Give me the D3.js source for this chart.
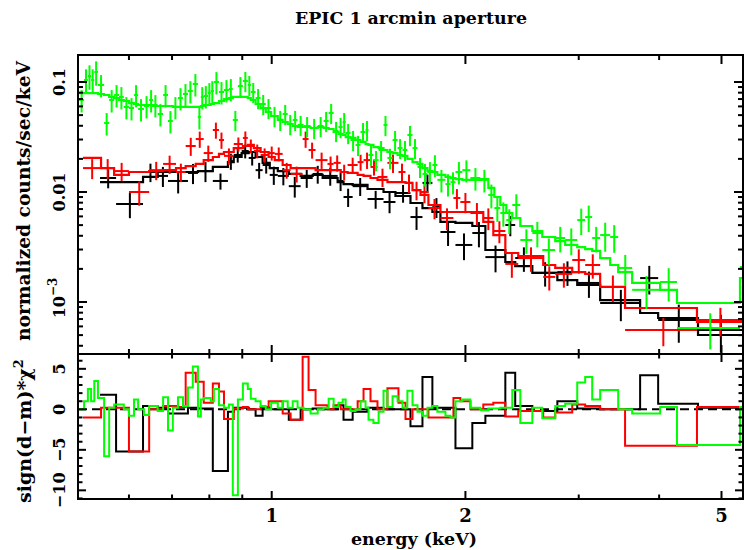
<!DOCTYPE html>
<html><head><meta charset="utf-8">
<script src="https://cdn.jsdelivr.net/npm/d3@7"></script>
<style>body{margin:0;background:#fff}</style>
</head><body><svg id="c" width="744" height="550"></svg>
<script>
// ---------------- data (energies in keV, fluxes in counts/s/keV) ----------------
const blackEdges=[0.541,0.573,0.631,0.665,0.690,0.741,0.768,0.810,0.855,0.873,0.898,0.921,0.944,0.968,0.993,1.022,1.063,1.109,1.158,1.200,1.266,1.293,1.336,1.409,1.492,1.557,1.643,1.715,1.777,1.829,1.930,2.050,2.148,2.307,2.390,2.541,2.779,2.984,3.239,3.737,3.986,4.597,5.381];
const blackFlux=[0.0134,0.00778,0.0152,0.0140,0.0126,0.0149,0.0155,0.0126,0.0191,0.0217,0.0236,0.0204,0.0158,0.0176,0.0143,0.0140,0.0113,0.0134,0.0146,0.0140,0.0126,0.00901,0.0113,0.00864,0.00811,0.00979,0.00592,0.0121,0.00730,0.00433,0.00330,0.00424,0.00256,0.00501,0.00251,0.00184,0.00187,0.00149,0.000979,0.00165,0.000686,0.000556];
const blackErr=[0.0026,0.0020,0.0029,0.0029,0.0029,0.0031,0.0032,0.0021,0.0032,0.0032,0.0034,0.0030,0.0026,0.0029,0.0027,0.0025,0.0024,0.0025,0.0027,0.0026,0.0024,0.0017,0.0021,0.0016,0.0017,0.0018,0.0014,0.0023,0.0015,0.0011,0.0009,0.0011,0.0007,0.00105,0.00063,0.00046,0.00047,0.00040,0.00031,0.00048,0.00026,0.00021];
const blackModel=[0.0123,0.0123,0.0137,0.0152,0.0152,0.0152,0.0155,0.0169,0.0187,0.0208,0.0226,0.0231,0.0208,0.0184,0.0165,0.0155,0.0146,0.0140,0.0143,0.0134,0.0123,0.0118,0.0116,0.01065,0.0100,0.0092,0.00794,0.00715,0.00658,0.00534,0.00523,0.00491,0.00297,0.00231,0.00212,0.00184,0.00158,0.00143,0.00104,0.000794,0.000715,0.000501];
const blackResid=[1.8,-5.2,0.4,0.2,-0.5,0.2,0.1,-7.6,-0.3,0.2,0.2,0,-0.8,0.2,0,0,-1.3,0,0.1,0,0.5,-1.3,-0.3,0.2,0,0,-2.1,4.0,0.2,0.2,-4.8,-1.7,-0.8,4.5,0.4,-0.2,1.0,0.1,0,4.2,0.7,0.2];

const redEdges=[0.509,0.543,0.569,0.600,0.645,0.678,0.710,0.735,0.762,0.784,0.810,0.828,0.843,0.873,0.902,0.918,0.938,0.961,0.989,1.011,1.040,1.070,1.117,1.141,1.170,1.221,1.248,1.280,1.312,1.360,1.389,1.424,1.460,1.513,1.574,1.614,1.655,1.703,1.752,1.829,1.916,1.964,2.036,2.132,2.210,2.307,2.416,2.642,2.758,2.931,3.070,3.239,3.541,4.580,5.381];
const redFlux=[0.0165,0.0165,0.0155,0.0100,0.0158,0.0180,0.0152,0.0262,0.0303,0.0226,0.0366,0.0297,0.0213,0.0273,0.0310,0.0262,0.0236,0.0217,0.0226,0.0222,0.0158,0.0146,0.0303,0.0241,0.0195,0.0180,0.0184,0.0152,0.0176,0.0187,0.0195,0.0169,0.0137,0.0184,0.0152,0.0121,0.0104,0.0100,0.00715,0.00580,0.00882,0.00811,0.00644,0.00580,0.00442,0.00222,0.00251,0.00169,0.00180,0.00241,0.00217,0.00137,0.000556,0.000686];
const redErr=[0.0034,0.0034,0.0029,0.0025,0.0030,0.0034,0.0029,0.0049,0.0051,0.0038,0.0061,0.0050,0.0036,0.0040,0.0045,0.0038,0.0034,0.0032,0.0033,0.0032,0.0026,0.0024,0.0051,0.0040,0.0033,0.0030,0.0031,0.0025,0.0029,0.0031,0.0033,0.0028,0.0026,0.0035,0.0029,0.0023,0.0020,0.0021,0.0015,0.0013,0.0018,0.0017,0.0015,0.0013,0.0010,0.00056,0.00063,0.00042,0.00045,0.00060,0.00054,0.00037,0.00016,0.00020];
const redModel=[0.0204,0.0165,0.0143,0.0152,0.0155,0.0158,0.0165,0.0172,0.0180,0.0195,0.0208,0.0222,0.0231,0.0251,0.0262,0.0268,0.0251,0.0231,0.0208,0.0195,0.0176,0.0165,0.0165,0.0165,0.0158,0.0158,0.0158,0.0152,0.0149,0.0143,0.0140,0.0134,0.0129,0.0123,0.0123,0.0121,0.0104,0.0094,0.00762,0.00658,0.00658,0.00658,0.00658,0.00534,0.00406,0.00279,0.00262,0.00217,0.00204,0.00187,0.00180,0.00137,0.000882,0.000658];
const redResid=[-1.0,0.2,0.2,-5.2,0,0.4,0.3,4.5,3.4,0.8,3.2,2.2,-1.2,0.1,0.3,0,0,0.3,1.0,1.0,-0.5,-1.3,6.5,2.4,0.5,0,0.5,0,0,1.0,2.5,1.0,0,2.6,0.8,-1.2,0,0,-1.0,-1.0,1.4,1.0,0,0.6,0.8,-0.9,-0.2,-1.0,-0.4,0.6,0.4,0,-4.5,0.3];

const greenEdges=[0.502,0.511,0.518,0.524,0.530,0.537,0.549,0.559,0.569,0.579,0.589,0.600,0.611,0.620,0.633,0.645,0.654,0.665,0.678,0.690,0.702,0.715,0.728,0.741,0.754,0.768,0.776,0.784,0.796,0.804,0.813,0.828,0.843,0.858,0.870,0.886,0.902,0.918,0.928,0.944,0.961,0.979,0.998,1.022,1.040,1.059,1.078,1.097,1.121,1.149,1.179,1.204,1.226,1.248,1.270,1.289,1.303,1.326,1.350,1.374,1.399,1.414,1.439,1.466,1.492,1.513,1.541,1.569,1.597,1.625,1.655,1.685,1.715,1.746,1.777,1.809,1.862,1.896,1.930,1.978,2.036,2.110,2.171,2.218,2.266,2.315,2.365,2.434,2.541,2.633,2.758,2.858,2.984,3.070,3.148,3.239,3.357,3.455,3.632,4.014,4.264,5.342,6.387];
const greenFlux=[0.0686,0.1043,0.1134,0.1043,0.1233,0.0939,0.0424,0.0686,0.0762,0.0731,0.0593,0.0580,0.0762,0.0568,0.0605,0.0686,0.0618,0.0512,0.0762,0.0442,0.0593,0.0715,0.0778,0.0828,0.0959,0.0481,0.0731,0.0746,0.0794,0.0828,0.1000,0.0811,0.0846,0.0864,0.0452,0.0919,0.1021,0.0939,0.0811,0.0715,0.0631,0.0580,0.0491,0.0452,0.0512,0.0415,0.0452,0.0407,0.0398,0.0382,0.0398,0.0442,0.0523,0.0359,0.0390,0.0433,0.0344,0.0297,0.0268,0.0351,0.0366,0.0217,0.0195,0.0241,0.0407,0.0204,0.0297,0.0251,0.0241,0.0330,0.0251,0.0169,0.0146,0.0152,0.0176,0.0129,0.0118,0.0123,0.0152,0.0158,0.0134,0.0129,0.00939,0.00715,0.00644,0.00556,0.00762,0.00366,0.00424,0.00297,0.00382,0.00366,0.00556,0.00592,0.00382,0.00406,0.00390,0.00204,0.00129,0.00152,0.00058,0.00208];
const greenErr=[0.0158,0.0261,0.0284,0.0261,0.0308,0.0216,0.0098,0.0158,0.0175,0.0168,0.0136,0.0133,0.0175,0.0131,0.0139,0.0158,0.0142,0.0118,0.0175,0.0102,0.0136,0.0164,0.0179,0.0190,0.0221,0.0111,0.0168,0.0172,0.0183,0.0190,0.0230,0.0187,0.0195,0.0199,0.0094,0.0192,0.0213,0.0196,0.0170,0.0149,0.0132,0.0121,0.0103,0.0094,0.0107,0.0087,0.0094,0.0085,0.0083,0.0080,0.0083,0.0092,0.0109,0.0075,0.0082,0.0090,0.0072,0.0062,0.0056,0.0073,0.0076,0.0045,0.0041,0.0050,0.0085,0.0043,0.0062,0.0052,0.0050,0.0069,0.0052,0.0035,0.0034,0.0035,0.0040,0.0030,0.0027,0.0028,0.0035,0.0036,0.0031,0.0030,0.0023,0.0018,0.0016,0.0014,0.0019,0.00092,0.0011,0.00081,0.0010,0.0010,0.0015,0.0016,0.0010,0.0012,0.0011,0.00064,0.00043,0.00051,0.00021,0.00069];
const greenModel=[0.0794,0.0794,0.0794,0.0794,0.0794,0.0778,0.0762,0.0731,0.0715,0.0686,0.0672,0.0644,0.0631,0.0618,0.0618,0.0618,0.0605,0.0605,0.0605,0.0605,0.0593,0.0593,0.0593,0.0593,0.0593,0.0593,0.0605,0.0618,0.0618,0.0631,0.0644,0.0672,0.0700,0.0715,0.0731,0.0731,0.0731,0.0715,0.0686,0.0631,0.0580,0.0534,0.0491,0.0452,0.0433,0.0415,0.0398,0.0390,0.0390,0.0382,0.0390,0.0382,0.0374,0.0351,0.0337,0.0330,0.0316,0.0310,0.0297,0.0285,0.0273,0.0268,0.0256,0.0251,0.0241,0.0231,0.0226,0.0217,0.0213,0.0200,0.0187,0.0180,0.0165,0.0155,0.0152,0.0143,0.0137,0.0134,0.0131,0.0129,0.0129,0.0131,0.0109,0.00901,0.00762,0.00644,0.00580,0.00491,0.00442,0.00390,0.00358,0.00330,0.00316,0.00303,0.00291,0.00251,0.00217,0.00187,0.00149,0.00129,0.000979,0.00165];
const greenResid=[0,1.0,2.5,1.0,3.5,1.4,-5.8,0.2,0.6,0.6,0,-0.8,1.2,0,-0.7,0.4,0.4,-0.2,1.5,-2.6,0.2,1.5,0.4,2.7,5.3,-0.9,1.2,1.4,1.4,1.0,2.5,0.5,0.2,0.6,-10.6,1.2,3.2,2.5,1.3,1.0,0.4,0,0.8,0.2,1.0,0.2,1.0,0.2,0,-0.5,0,0.2,1.3,0.3,0.8,1.2,0.3,-0.2,0,1.0,0.2,-1.3,-1.7,-0.3,2.3,0.3,1.6,1.0,0.2,2.3,0.5,-0.3,-0.8,0.2,0.4,-0.3,-0.8,-1.0,1.0,1.2,0.2,-0.1,0.1,0.1,0.2,0.2,2.4,-1.7,0.2,-1.1,0.4,0.7,3.3,4.0,1.2,2.4,2.4,0,-0.5,0.3,-4.4,0.3];

const xMajor=[1,2,5], xMajorLabels=["1","2","5"];
const xMinor=[0.6,0.7,0.8,0.9,3,4];
const yTopMajor=[0.001,0.01,0.1];
const yTopMinor=[4e-4,5e-4,6e-4,7e-4,8e-4,9e-4,0.002,0.003,0.004,0.005,0.006,0.007,0.008,0.009,0.02,0.03,0.04,0.05,0.06,0.07,0.08,0.09];
const yResMajor=[-10,-5,0,5], yResLabels=["\u221210","\u22125","0","5"];
const yResMinor=[-11,-9,-8,-7,-6,-4,-3,-2,-1,1,2,3,4,6];

// ---------------- layout ----------------
const L=78,R=743,T=55,M=354,B=499;
const FONT="'DejaVu Serif', serif";
const svg=d3.select('#c');
svg.append('rect').attr('width',744).attr('height',550).attr('fill','#fff');
const x=d3.scaleLog().domain([0.5,5.4]).range([L,R]);
const yTop=d3.scaleLog().domain([3.367e-4,0.176]).range([M,T]);
const yRes=d3.scaleLinear().domain([-11.07,6.83]).range([B,M]);

const defs=svg.append('defs');
defs.append('clipPath').attr('id','clipTop').append('rect').attr('x',L).attr('y',T).attr('width',R-L).attr('height',M-T);
defs.append('clipPath').attr('id','clipRes').append('rect').attr('x',L).attr('y',M).attr('width',R-L).attr('height',B-M);

const series=[
 {c:'#000000',edges:blackEdges,flux:blackFlux,err:blackErr,model:blackModel,resid:blackResid},
 {c:'#ff0000',edges:redEdges,flux:redFlux,err:redErr,model:redModel,resid:redResid},
 {c:'#00ff00',edges:greenEdges,flux:greenFlux,err:greenErr,model:greenModel,resid:greenResid}
];

const gTop=svg.append('g').attr('clip-path','url(#clipTop)');
const gRes=svg.append('g').attr('clip-path','url(#clipRes)');

// zero line
gRes.append('line').attr('x1',L).attr('x2',R).attr('y1',yRes(0)).attr('y2',yRes(0))
 .attr('stroke','#000').attr('stroke-width',2).attr('stroke-dasharray','9,5');

function stepPts(edges,vals){
  const p=vals.map((v,i)=>[edges[i],v]);
  p.push([edges[edges.length-1],vals[vals.length-1]]);
  return p;
}
series.forEach(s=>{
  const g=gTop.append('g').attr('stroke',s.c).attr('fill','none').attr('stroke-width',2);
  // data crosses
  s.flux.forEach((f,i)=>{
    const lo=s.edges[i],hi=s.edges[i+1],cx=(lo+hi)/2;
    g.append('line').attr('x1',x(lo)).attr('x2',x(hi)).attr('y1',yTop(f)).attr('y2',yTop(f));
    const ylo=Math.max(f-s.err[i],1e-5);
    g.append('line').attr('x1',x(cx)).attr('x2',x(cx)).attr('y1',yTop(ylo)).attr('y2',yTop(f+s.err[i]));
  });
  // model
  g.append('path').attr('d',d3.line().x(d=>x(d[0])).y(d=>yTop(d[1])).curve(d3.curveStepAfter)(stepPts(s.edges,s.model)))
   .attr('stroke-width',2.2);
  // residuals
  gRes.append('path').attr('d',d3.line().x(d=>x(d[0])).y(d=>yRes(d[1])).curve(d3.curveStepAfter)(stepPts(s.edges,s.resid)))
   .attr('stroke',s.c).attr('fill','none').attr('stroke-width',2);
});

// ---------------- frames & ticks ----------------
const ax=svg.append('g').attr('stroke','#000').attr('stroke-width',2).attr('fill','none');
ax.append('rect').attr('x',L).attr('y',T).attr('width',R-L).attr('height',M-T);
ax.append('rect').attr('x',L).attr('y',M).attr('width',R-L).attr('height',B-M);
function tick(x1,y1,x2,y2){ax.append('line').attr('x1',x1).attr('y1',y1).attr('x2',x2).attr('y2',y2);}
function panelTicks(y0,y1,ys,major,minor,majLen,minLen){
  xMajor.forEach(v=>{tick(x(v),y0,x(v),y0+majLen);tick(x(v),y1,x(v),y1-majLen);});
  xMinor.forEach(v=>{tick(x(v),y0,x(v),y0+minLen);tick(x(v),y1,x(v),y1-minLen);});
  major.forEach(v=>{tick(L,ys(v),L+majLen,ys(v));tick(R,ys(v),R-majLen,ys(v));});
  minor.forEach(v=>{tick(L,ys(v),L+minLen,ys(v));tick(R,ys(v),R-minLen,ys(v));});
}
panelTicks(T,M,yTop,yTopMajor,yTopMinor,9,5);
panelTicks(M,B,yRes,yResMajor,yResMinor,8,4.5);

// ---------------- text ----------------
const tx=svg.append('g').attr('font-family',FONT).attr('font-weight','bold').attr('fill','#000');
xMajor.forEach((v,i)=>tx.append('text').attr('x',x(v)).attr('y',522).attr('text-anchor','middle').attr('font-size',18).text(xMajorLabels[i]));
function vlabel(y,parts,size){
  const t=tx.append('text').attr('transform',`translate(65,${y}) rotate(-90)`).attr('text-anchor','middle').attr('font-size',size);
  return t;
}
vlabel(yTop(0.1),0,16).text('0.1');
vlabel(yTop(0.01),0,16).text('0.01');
{const t=vlabel(yTop(0.001)-4,0,16); t.append('tspan').text('10'); t.append('tspan').attr('dy',-8).attr('font-size',12).text('\u22123');}
yResMajor.forEach((v,i)=>vlabel(yRes(v),0,16).text(yResLabels[i]));

tx.append('text').attr('x',411).attr('y',24).attr('text-anchor','middle').attr('font-size',17)
  .attr('textLength',232).attr('lengthAdjust','spacingAndGlyphs').text('EPIC 1 arcmin aperture');
tx.append('text').attr('x',414).attr('y',545).attr('text-anchor','middle').attr('font-size',17)
  .attr('textLength',126).attr('lengthAdjust','spacingAndGlyphs').text('energy (keV)');
tx.append('text').attr('transform','translate(30,201) rotate(-90)').attr('text-anchor','middle').attr('font-size',18)
  .attr('textLength',280).attr('lengthAdjust','spacingAndGlyphs').text('normalized counts/sec/keV');
{const t=tx.append('text').attr('transform','translate(31,431) rotate(-90)').attr('text-anchor','middle').attr('font-size',19);
 t.append('tspan').text('sign(d\u2212m)*\u03c7'); t.append('tspan').attr('dy',-8).attr('font-size',13).text('2');}
</script></body></html>
